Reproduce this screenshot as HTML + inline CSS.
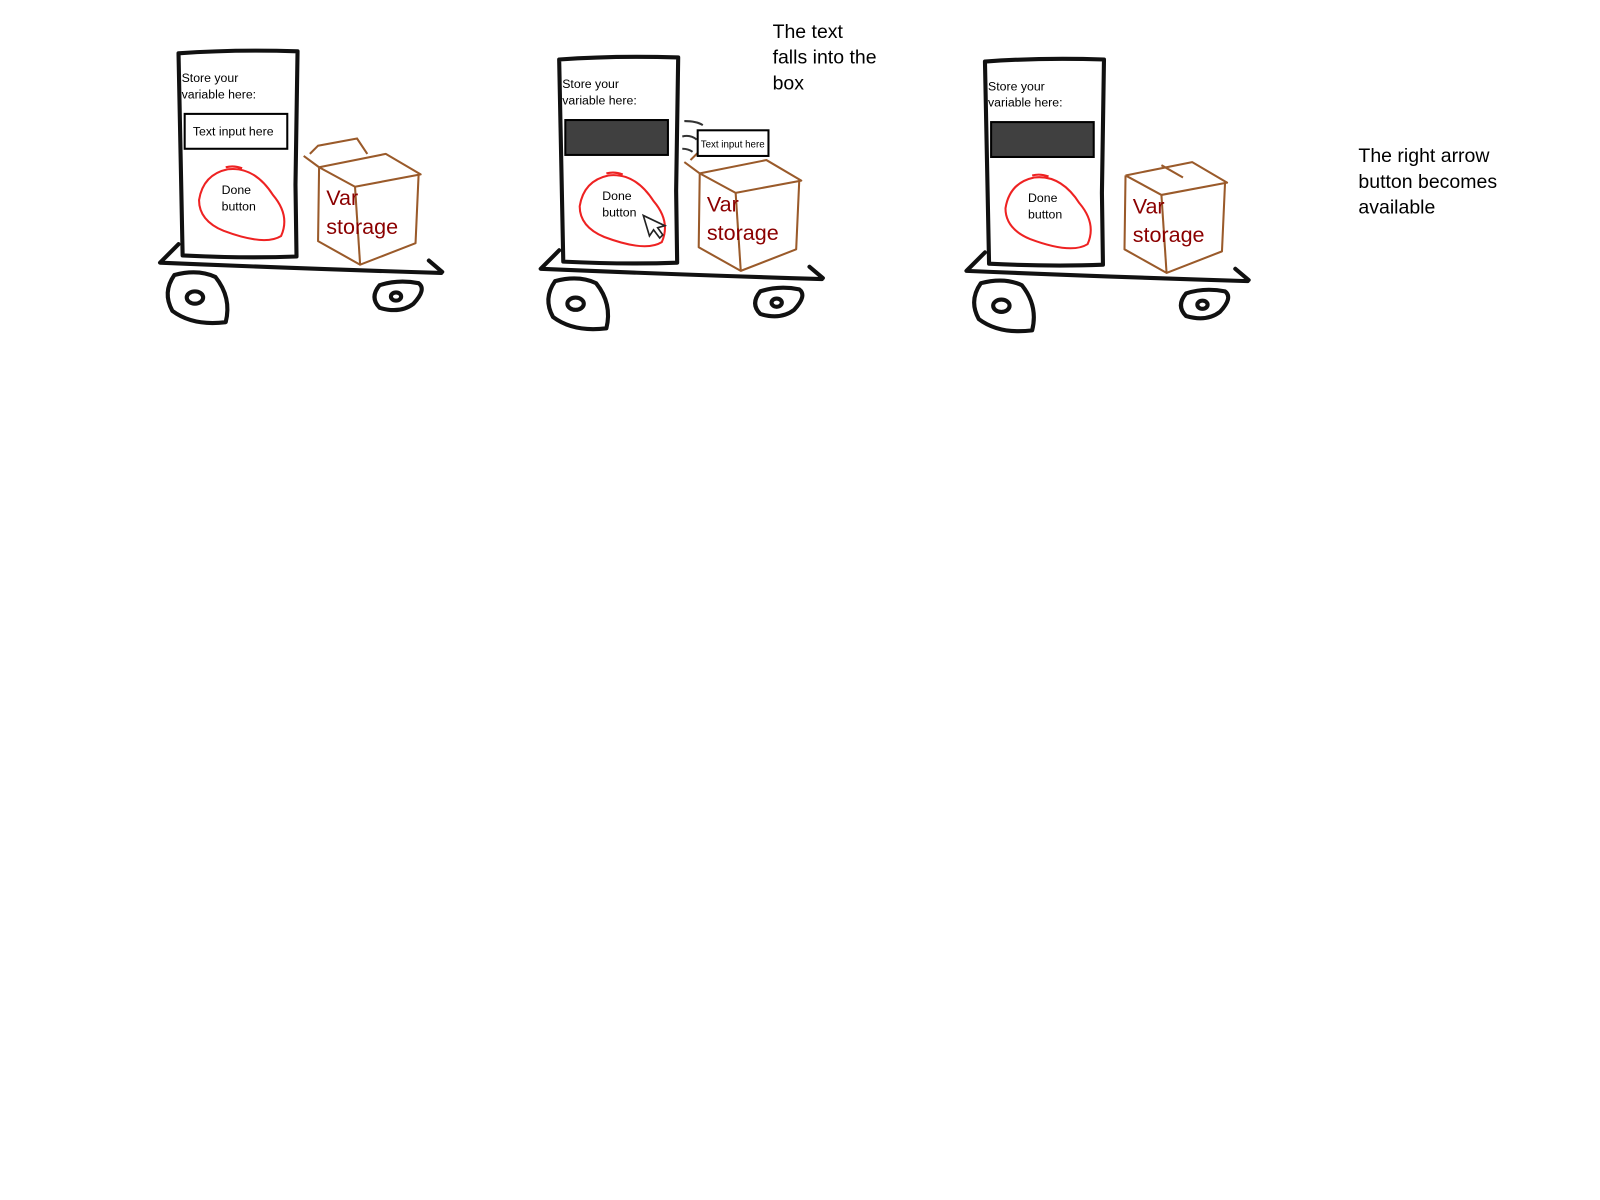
<!DOCTYPE html>
<html><head><meta charset="utf-8"><style>
html,body{margin:0;padding:0;background:#fff;}
svg{display:block;}
text{font-family:"Liberation Sans",sans-serif;}
</style></head><body>
<svg width="1600" height="1200" viewBox="0 0 1600 1200" xmlns="http://www.w3.org/2000/svg">
<defs>
<g id="cartbase" fill="none" stroke="#111" stroke-width="4" stroke-linecap="round" stroke-linejoin="round">
  <path d="M176,52 Q230,48 292,50 L290,180 L291,250 Q240,252 180,249 L178,150 Z"/>
  <path d="M176,238 L158,256 Q300,262 432,266 M420,254 L433,265"/>
  <path d="M172,268 Q160,285 170,303 Q190,318 222,314 Q228,290 212,270 Q195,262 172,268 Z"/>
  <ellipse cx="192" cy="290" rx="8" ry="6"/>
  <path d="M372,278 Q362,290 372,300 Q392,306 405,296 Q418,282 410,276 Q390,272 372,278 Z"/>
  <ellipse cx="388" cy="289" rx="5" ry="4"/>
</g>
<g id="blob" fill="none" stroke="#ee2222" stroke-width="2">
  <path d="M224,165 Q200,170 196,195 Q196,215 220,225 Q260,240 276,230 Q285,210 268,190 Q250,162 224,165 Z M222,163 Q230,161 238,164"/>
</g>
<g id="boxbody" fill="none" stroke="#9a5a2a" stroke-width="2" stroke-linejoin="round">
  <path d="M313,163 L348,182 L412,170 L378,150 L313,163"/>
  <path d="M313,163 L312,235 L353,258 L407,237 L410,170"/>
  <path d="M348,182 L353,258"/>
</g>
</defs>
<g transform="scale(1.026)">
<!-- CART 1 -->
<g transform="translate(-2,0)">
<use href="#cartbase"/>
<text x="179" y="80" font-size="12">Store your</text>
<text x="179" y="96" font-size="12">variable here:</text>
<rect x="182" y="111" width="100" height="34" fill="#fff" stroke="#000" stroke-width="2"/>
<text x="190" y="132" font-size="12">Text input here</text>
<use href="#blob"/>
<text x="218" y="189" font-size="12">Done</text>
<text x="218" y="205" font-size="12">button</text>
<use href="#boxbody"/>
<path d="M304,150 L312,142 L350,135 L360,150 M298,152 L313,163" fill="none" stroke="#9a5a2a" stroke-width="2"/>
<text x="320" y="200" font-size="21" fill="#8b0000">Var</text>
<text x="320" y="228" font-size="21" fill="#8b0000">storage</text>
</g>

<!-- CART 2 -->
<g transform="translate(369,6)">
<use href="#cartbase"/>
<text x="179" y="80" font-size="12">Store your</text>
<text x="179" y="96" font-size="12">variable here:</text>
<rect x="182" y="111" width="100" height="34" fill="#404040" stroke="#000" stroke-width="2"/>
<use href="#blob"/>
<text x="218" y="189" font-size="12">Done</text>
<text x="218" y="205" font-size="12">button</text>
<use href="#boxbody"/>
<path d="M304,150 L312,142 M298,152 L313,163" fill="none" stroke="#9a5a2a" stroke-width="2"/>
<text x="320" y="200" font-size="21" fill="#8b0000">Var</text>
<text x="320" y="228" font-size="21" fill="#8b0000">storage</text>
<path d="M298,112 Q310,112 316,116 M296,127 Q304,125 310,130 M296,139 Q302,139 306,142" fill="none" stroke="#333" stroke-width="2"/>
<path d="M258,204 L264,224 L268,218 L274,226 L277,223 L272,216 L279,214 Z" fill="#fff" stroke="#222" stroke-width="1.6"/>
</g>
<rect x="680" y="127" width="69" height="25" fill="#fff" stroke="#000" stroke-width="2"/>
<text x="683" y="144" font-size="9.5">Text input here</text>
<text x="753" y="37" font-size="19">The text</text>
<text x="753" y="62" font-size="19">falls into the</text>
<text x="753" y="87" font-size="19">box</text>

<!-- CART 3 -->
<g transform="translate(784,8)">
<use href="#cartbase"/>
<text x="179" y="80" font-size="12">Store your</text>
<text x="179" y="96" font-size="12">variable here:</text>
<rect x="182" y="111" width="100" height="34" fill="#404040" stroke="#000" stroke-width="2"/>
<use href="#blob"/>
<text x="218" y="189" font-size="12">Done</text>
<text x="218" y="205" font-size="12">button</text>
<use href="#boxbody"/>
<path d="M348,153 L369,165" fill="none" stroke="#9a5a2a" stroke-width="2"/>
<text x="320" y="200" font-size="21" fill="#8b0000">Var</text>
<text x="320" y="228" font-size="21" fill="#8b0000">storage</text>
</g>
<text x="1324" y="158" font-size="19">The right arrow</text>
<text x="1324" y="183" font-size="19">button becomes</text>
<text x="1324" y="208" font-size="19">available</text>
</g>
</svg>
</body></html>
